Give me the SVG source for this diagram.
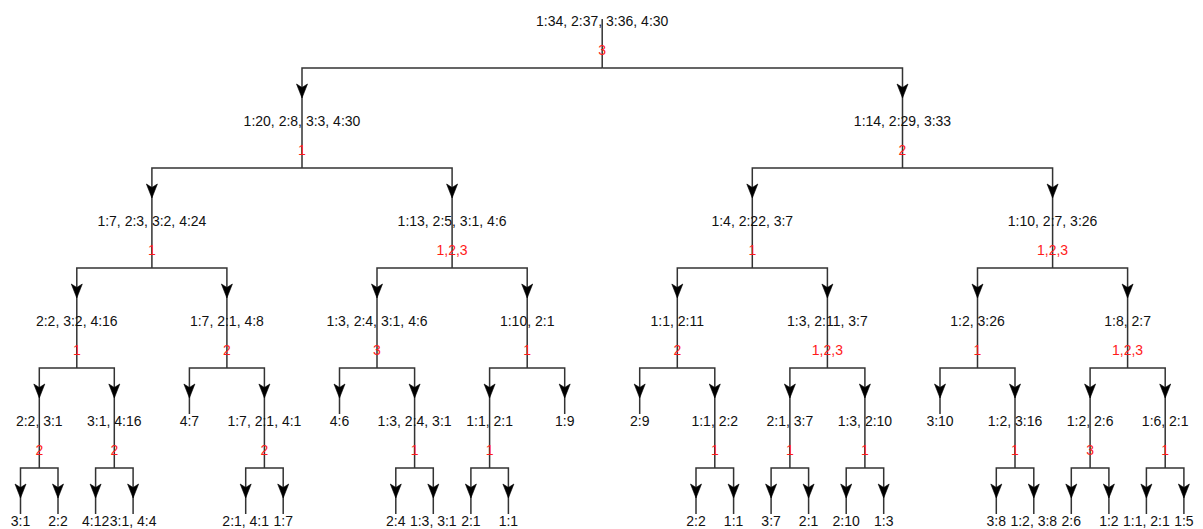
<svg xmlns="http://www.w3.org/2000/svg" xmlns:xlink="http://www.w3.org/1999/xlink" width="1203" height="529" viewBox="0 0 1203 529">
<style>
.c{fill:none;stroke:#333;stroke-width:1.5}
.t{font-family:"Liberation Sans",Arial,sans-serif;font-size:14px;fill:#111;text-anchor:middle}
.r{font-family:"Liberation Sans",Arial,sans-serif;font-size:14px;fill:#ff1a1a;text-anchor:middle}
.a{fill:#000;stroke:#000;stroke-width:0.6;stroke-linejoin:miter}
</style>
<defs>
<path id="arr" class="a" d="M-5.5,-14 L0,0 L5.5,-14 L0,-10.5 Z"/>
</defs>
<rect width="1203" height="529" fill="#fff"/>
<g id="connectors">
<path class="c" d="M602.2,19V68"/>
<path class="c" d="M602.2,68H302V119M302,119V168"/>
<path class="c" d="M602.2,68H902.5V119M902.5,119V168"/>
<path class="c" d="M302,168H151.9V268M302,168H452.1V268M902.5,168H752.3V268M902.5,168H1052.6V268"/>
<path class="c" d="M151.9,268H76.8V368M151.9,268H226.9V368M452.1,268H377V368M452.1,268H527.2V368M752.3,268H677.3V368M752.3,268H827.4V368M1052.6,268H977.5V368M1052.6,268H1127.6V368"/>
<path class="c" d="M76.8,368H39.3V468M76.8,368H114.3V468M226.9,368H189.4V414M226.9,368H264.4V468M377,368H339.5V414M377,368H414.6V468M527.2,368H489.6V468M527.2,368H564.7V414M677.3,368H639.7V414M677.3,368H714.8V468M827.4,368H789.9V468M827.4,368H864.9V468M977.5,368H940V414M977.5,368H1015V468M1127.6,368H1090.1V468M1127.6,368H1165.2V468"/>
<path class="c" d="M39.3,468H20.5V514M39.3,468H58V514M114.3,468H95.6V514M114.3,468H133.1V514M264.4,468H245.7V514M264.4,468H283.2V514M414.6,468H395.8V514M414.6,468H433.3V514M489.6,468H470.9V514M489.6,468H508.4V514M714.8,468H696V514M714.8,468H733.6V514M789.9,468H771.1V514M789.9,468H808.6V514M864.9,468H846.2V514M864.9,468H883.7V514M1015,468H996.3V514M1015,468H1033.8V514M1090.1,468H1071.3V514M1090.1,468H1108.9V514M1165.2,468H1146.4V514M1165.2,468H1183.9V514"/>
<use href="#arr" transform="translate(302,98)"/>
<use href="#arr" transform="translate(902.5,98)"/>
<use href="#arr" transform="translate(151.9,198)"/>
<use href="#arr" transform="translate(452.1,198)"/>
<use href="#arr" transform="translate(752.3,198)"/>
<use href="#arr" transform="translate(1052.6,198)"/>
<use href="#arr" transform="translate(76.8,298)"/>
<use href="#arr" transform="translate(226.9,298)"/>
<use href="#arr" transform="translate(377,298)"/>
<use href="#arr" transform="translate(527.2,298)"/>
<use href="#arr" transform="translate(677.3,298)"/>
<use href="#arr" transform="translate(827.4,298)"/>
<use href="#arr" transform="translate(977.5,298)"/>
<use href="#arr" transform="translate(1127.6,298)"/>
<use href="#arr" transform="translate(39.3,398)"/>
<use href="#arr" transform="translate(114.3,398)"/>
<use href="#arr" transform="translate(189.4,398)"/>
<use href="#arr" transform="translate(264.4,398)"/>
<use href="#arr" transform="translate(339.5,398)"/>
<use href="#arr" transform="translate(414.6,398)"/>
<use href="#arr" transform="translate(489.6,398)"/>
<use href="#arr" transform="translate(564.7,398)"/>
<use href="#arr" transform="translate(639.7,398)"/>
<use href="#arr" transform="translate(714.8,398)"/>
<use href="#arr" transform="translate(789.9,398)"/>
<use href="#arr" transform="translate(864.9,398)"/>
<use href="#arr" transform="translate(940,398)"/>
<use href="#arr" transform="translate(1015,398)"/>
<use href="#arr" transform="translate(1090.1,398)"/>
<use href="#arr" transform="translate(1165.2,398)"/>
<use href="#arr" transform="translate(20.5,498)"/>
<use href="#arr" transform="translate(58,498)"/>
<use href="#arr" transform="translate(95.6,498)"/>
<use href="#arr" transform="translate(133.1,498)"/>
<use href="#arr" transform="translate(245.7,498)"/>
<use href="#arr" transform="translate(283.2,498)"/>
<use href="#arr" transform="translate(395.8,498)"/>
<use href="#arr" transform="translate(433.3,498)"/>
<use href="#arr" transform="translate(470.9,498)"/>
<use href="#arr" transform="translate(508.4,498)"/>
<use href="#arr" transform="translate(696,498)"/>
<use href="#arr" transform="translate(733.6,498)"/>
<use href="#arr" transform="translate(771.1,498)"/>
<use href="#arr" transform="translate(808.6,498)"/>
<use href="#arr" transform="translate(846.2,498)"/>
<use href="#arr" transform="translate(883.7,498)"/>
<use href="#arr" transform="translate(996.3,498)"/>
<use href="#arr" transform="translate(1033.8,498)"/>
<use href="#arr" transform="translate(1071.3,498)"/>
<use href="#arr" transform="translate(1108.9,498)"/>
<use href="#arr" transform="translate(1146.4,498)"/>
<use href="#arr" transform="translate(1183.9,498)"/>
</g>
<g id="n-root"><text class="t" x="602.2" y="25.5">1:34, 2:37, 3:36, 4:30</text><text class="r" x="602.2" y="54.5">3</text></g>
<g id="n-A"><text class="t" x="302" y="125.5">1:20, 2:8, 3:3, 4:30</text><text class="r" x="302" y="154.5">1</text></g>
<g id="n-B"><text class="t" x="902.5" y="125.5">1:14, 2:29, 3:33</text><text class="r" x="902.5" y="154.5">2</text></g>
<g id="n-AA"><text class="t" x="151.9" y="225.5">1:7, 2:3, 3:2, 4:24</text><text class="r" x="151.9" y="254.5">1</text></g>
<g id="n-AB"><text class="t" x="452.1" y="225.5">1:13, 2:5, 3:1, 4:6</text><text class="r" x="452.1" y="254.5">1,2,3</text></g>
<g id="n-BA"><text class="t" x="752.3" y="225.5">1:4, 2:22, 3:7</text><text class="r" x="752.3" y="254.5">1</text></g>
<g id="n-BB"><text class="t" x="1052.6" y="225.5">1:10, 2:7, 3:26</text><text class="r" x="1052.6" y="254.5">1,2,3</text></g>
<g id="n-AAA"><text class="t" x="76.8" y="325.5">2:2, 3:2, 4:16</text><text class="r" x="76.8" y="354.5">1</text></g>
<g id="n-AAB"><text class="t" x="226.9" y="325.5">1:7, 2:1, 4:8</text><text class="r" x="226.9" y="354.5">2</text></g>
<g id="n-ABA"><text class="t" x="377" y="325.5">1:3, 2:4, 3:1, 4:6</text><text class="r" x="377" y="354.5">3</text></g>
<g id="n-ABB"><text class="t" x="527.2" y="325.5">1:10, 2:1</text><text class="r" x="527.2" y="354.5">1</text></g>
<g id="n-BAA"><text class="t" x="677.3" y="325.5">1:1, 2:11</text><text class="r" x="677.3" y="354.5">2</text></g>
<g id="n-BAB"><text class="t" x="827.4" y="325.5">1:3, 2:11, 3:7</text><text class="r" x="827.4" y="354.5">1,2,3</text></g>
<g id="n-BBA"><text class="t" x="977.5" y="325.5">1:2, 3:26</text><text class="r" x="977.5" y="354.5">1</text></g>
<g id="n-BBB"><text class="t" x="1127.6" y="325.5">1:8, 2:7</text><text class="r" x="1127.6" y="354.5">1,2,3</text></g>
<g id="n-AAAA"><text class="t" x="39.3" y="425.5">2:2, 3:1</text><text class="r" x="39.3" y="454.5">2</text></g>
<g id="n-AAAB"><text class="t" x="114.3" y="425.5">3:1, 4:16</text><text class="r" x="114.3" y="454.5">2</text></g>
<g id="n-AABA"><text class="t" x="189.4" y="425.5">4:7</text></g>
<g id="n-AABB"><text class="t" x="264.4" y="425.5">1:7, 2:1, 4:1</text><text class="r" x="264.4" y="454.5">2</text></g>
<g id="n-ABAA"><text class="t" x="339.5" y="425.5">4:6</text></g>
<g id="n-ABAB"><text class="t" x="414.6" y="425.5">1:3, 2:4, 3:1</text><text class="r" x="414.6" y="454.5">1</text></g>
<g id="n-ABBA"><text class="t" x="489.6" y="425.5">1:1, 2:1</text><text class="r" x="489.6" y="454.5">1</text></g>
<g id="n-ABBB"><text class="t" x="564.7" y="425.5">1:9</text></g>
<g id="n-BAAA"><text class="t" x="639.7" y="425.5">2:9</text></g>
<g id="n-BAAB"><text class="t" x="714.8" y="425.5">1:1, 2:2</text><text class="r" x="714.8" y="454.5">1</text></g>
<g id="n-BABA"><text class="t" x="789.9" y="425.5">2:1, 3:7</text><text class="r" x="789.9" y="454.5">1</text></g>
<g id="n-BABB"><text class="t" x="864.9" y="425.5">1:3, 2:10</text><text class="r" x="864.9" y="454.5">1</text></g>
<g id="n-BBAA"><text class="t" x="940" y="425.5">3:10</text></g>
<g id="n-BBAB"><text class="t" x="1015" y="425.5">1:2, 3:16</text><text class="r" x="1015" y="454.5">1</text></g>
<g id="n-BBBA"><text class="t" x="1090.1" y="425.5">1:2, 2:6</text><text class="r" x="1090.1" y="454.5">3</text></g>
<g id="n-BBBB"><text class="t" x="1165.2" y="425.5">1:6, 2:1</text><text class="r" x="1165.2" y="454.5">1</text></g>
<g id="n-L0"><text class="t" x="20.5" y="525.5">3:1</text></g>
<g id="n-L1"><text class="t" x="58" y="525.5">2:2</text></g>
<g id="n-L2"><text class="t" x="95.6" y="525.5">4:12</text></g>
<g id="n-L3"><text class="t" x="133.1" y="525.5">3:1, 4:4</text></g>
<g id="n-L6"><text class="t" x="245.7" y="525.5">2:1, 4:1</text></g>
<g id="n-L7"><text class="t" x="283.2" y="525.5">1:7</text></g>
<g id="n-L10"><text class="t" x="395.8" y="525.5">2:4</text></g>
<g id="n-L11"><text class="t" x="433.3" y="525.5">1:3, 3:1</text></g>
<g id="n-L12"><text class="t" x="470.9" y="525.5">2:1</text></g>
<g id="n-L13"><text class="t" x="508.4" y="525.5">1:1</text></g>
<g id="n-L18"><text class="t" x="696" y="525.5">2:2</text></g>
<g id="n-L19"><text class="t" x="733.6" y="525.5">1:1</text></g>
<g id="n-L20"><text class="t" x="771.1" y="525.5">3:7</text></g>
<g id="n-L21"><text class="t" x="808.6" y="525.5">2:1</text></g>
<g id="n-L22"><text class="t" x="846.2" y="525.5">2:10</text></g>
<g id="n-L23"><text class="t" x="883.7" y="525.5">1:3</text></g>
<g id="n-L26"><text class="t" x="996.3" y="525.5">3:8</text></g>
<g id="n-L27"><text class="t" x="1033.8" y="525.5">1:2, 3:8</text></g>
<g id="n-L28"><text class="t" x="1071.3" y="525.5">2:6</text></g>
<g id="n-L29"><text class="t" x="1108.9" y="525.5">1:2</text></g>
<g id="n-L30"><text class="t" x="1146.4" y="525.5">1:1, 2:1</text></g>
<g id="n-L31"><text class="t" x="1183.9" y="525.5">1:5</text></g>
</svg>
